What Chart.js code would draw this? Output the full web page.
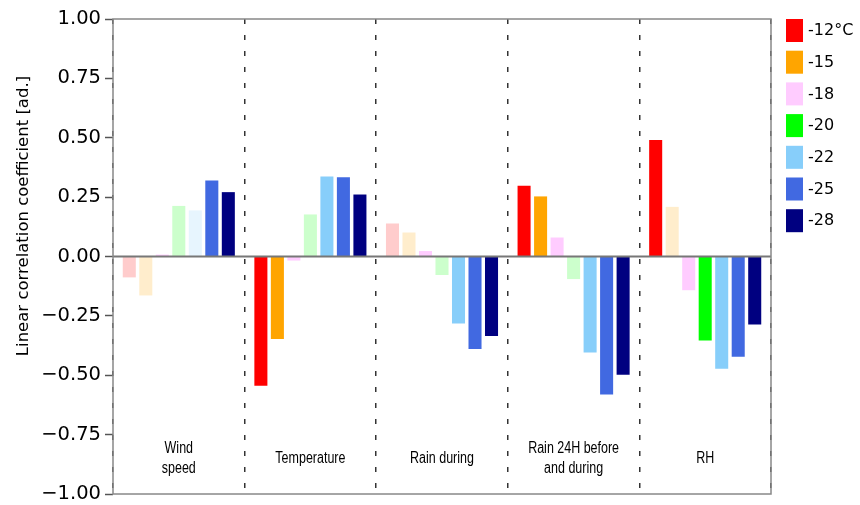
<!DOCTYPE html>
<html>
<head>
<meta charset="utf-8">
<script src="https://cdn.jsdelivr.net/npm/chart.js@4"></script>
<style>
  html, body { margin: 0; padding: 0; background: #fff; }
  #wrap { width: 860px; height: 505px; }
</style>
</head>
<body>
<div id="wrap"><canvas id="corrChart" width="860" height="505"></canvas></div>
<script>
// Data
const categories = [['Wind', 'speed'], 'Temperature', 'Rain during', ['Rain 24H before', 'and during'], 'RH'];
const seriesNames = ['-12°C', '-15', '-18', '-20', '-22', '-25', '-28'];

const corr12 = [-0.088, -0.544, 0.139, 0.298, 0.491];
const corr15 = [-0.164, -0.347, 0.101, 0.253, 0.209];
const corr18 = [0.008, -0.017, 0.023, 0.080, -0.142];
const corr20 = [0.213, 0.177, -0.078, -0.095, -0.354];
const corr22 = [0.194, 0.337, -0.282, -0.404, -0.473];
const corr25 = [0.320, 0.334, -0.389, -0.581, -0.422];
const corr28 = [0.271, 0.261, -0.335, -0.498, -0.286];

// significant correlations are drawn solid, the rest faded
const sig12 = [false, true, false, true, true];
const sig15 = [false, true, false, true, false];
const sig18 = [true, true, true, true, true];
const sig20 = [false, false, false, false, true];
const sig22 = [false, true, true, true, true];
const sig25 = [true, true, true, true, true];
const sig28 = [true, true, true, true, true];

const yTicks = [-1, -0.75, -0.5, -0.25, 0, 0.25, 0.5, 0.75, 1];

// Styles
const seriesColors = ['#ff0000', '#ffa500', '#ffccff', '#00ff00', '#87cefa', '#4169e1', '#000080'];
const FADE = 0.2;

function fadeColor(hex, a) {
    const r = parseInt(hex.slice(1, 3), 16), g = parseInt(hex.slice(3, 5), 16), b = parseInt(hex.slice(5, 7), 16);
    const mix = c => Math.round(255 - (255 - c) * a);
    return `rgb(${mix(r)}, ${mix(g)}, ${mix(b)})`;
}

const allValues = [corr12, corr15, corr18, corr20, corr22, corr25, corr28];
const allSig = [sig12, sig15, sig18, sig20, sig22, sig25, sig28];

const datasets = seriesNames.map((name, i) => ({
    label: name,
    data: allValues[i],
    backgroundColor: allSig[i].map(s => s ? seriesColors[i] : fadeColor(seriesColors[i], FADE)),
    borderWidth: 0,
    categoryPercentage: 0.878,
    barPercentage: 0.79
}));

// Plugins: frame, zero line, group labels, y title, legend
const decorations = {
    id: 'decorations',
    afterDatasetsDraw(chart) {
        const { ctx, chartArea: a, scales: { x, y } } = chart;
        ctx.save();
        // zero line over the bars
        const y0 = y.getPixelForValue(0);
        ctx.strokeStyle = '#777';
        ctx.lineWidth = 2;
        ctx.beginPath();
        ctx.moveTo(a.left, y0);
        ctx.lineTo(a.right, y0);
        ctx.stroke();

        // frame
        ctx.strokeStyle = '#888';
        ctx.lineWidth = 1.5;
        ctx.strokeRect(a.left, a.top, a.right - a.left, a.bottom - a.top);

        // group labels inside the plot (narrow look)
        ctx.fillStyle = '#000';
        ctx.font = "16px 'Liberation Sans', Arial, sans-serif";
        ctx.textAlign = 'center';
        ctx.textBaseline = 'middle';
        const yLab = y.getPixelForValue(-0.85);
        const squeeze = 0.78;
        categories.forEach((lab, i) => {
            const cx = x.getPixelForValue(i);
            const lines = Array.isArray(lab) ? lab : [lab];
            const lh = 20;
            lines.forEach((t, k) => {
                ctx.save();
                ctx.translate(cx, yLab + (k - (lines.length - 1) / 2) * lh);
                ctx.scale(squeeze, 1);
                ctx.fillText(t, 0, 0);
                ctx.restore();
            });
        });

        // y title
        ctx.font = "16.5px 'DejaVu Sans', sans-serif";
        ctx.translate(24, 216);
        ctx.rotate(-Math.PI / 2);
        ctx.fillText('Linear correlation coefficient [ad.]', 0, 0);
        ctx.restore();

        // legend
        ctx.save();
        ctx.font = "16px 'DejaVu Sans', sans-serif";
        ctx.textAlign = 'left';
        ctx.textBaseline = 'middle';
        seriesNames.forEach((name, i) => {
            const top = 19 + i * 31.7;
            ctx.fillStyle = seriesColors[i];
            ctx.fillRect(786, top, 17, 23);
            ctx.fillStyle = '#000';
            ctx.fillText(name, 808, top + 12);
        });
        ctx.restore();
    }
};

const ctx = document.getElementById('corrChart').getContext('2d');
const chart = new Chart(ctx, {
    type: 'bar',
    data: { labels: categories, datasets: datasets },
    options: {
        responsive: false,
        devicePixelRatio: 1,
        animation: false,
        layout: { padding: { top: 19, right: 89, bottom: 11, left: 0 } },
        plugins: {
            legend: { display: false },
            tooltip: { enabled: false }
        },
        scales: {
            x: {
                ticks: { display: false },
                grid: {
                    offset: true,
                    color: '#333',
                    lineWidth: 1.5,
                    drawTicks: false
                },
                border: { display: false, dash: [5, 11] }
            },
            y: {
                min: -1,
                max: 1,
                afterBuildTicks: scale => { scale.ticks = yTicks.map(v => ({ value: v })); },
                afterFit: scale => {
                    scale.width = 113;
                    scale.paddingTop = 0;
                    scale.paddingBottom = 0;
                },
                ticks: {
                    color: '#000',
                    padding: 4,
                    font: { family: "'DejaVu Sans', sans-serif", size: 19.5 },
                    callback: v => (v < 0 ? '\u2212' : '') + Math.abs(v).toFixed(2)
                },
                grid: {
                    color: 'rgba(0,0,0,0)',
                    drawTicks: true,
                    tickLength: 8,
                    tickColor: '#555',
                    tickWidth: 1.5
                },
                border: { display: false }
            }
        }
    },
    plugins: [decorations]
});
</script>
</body>
</html>
